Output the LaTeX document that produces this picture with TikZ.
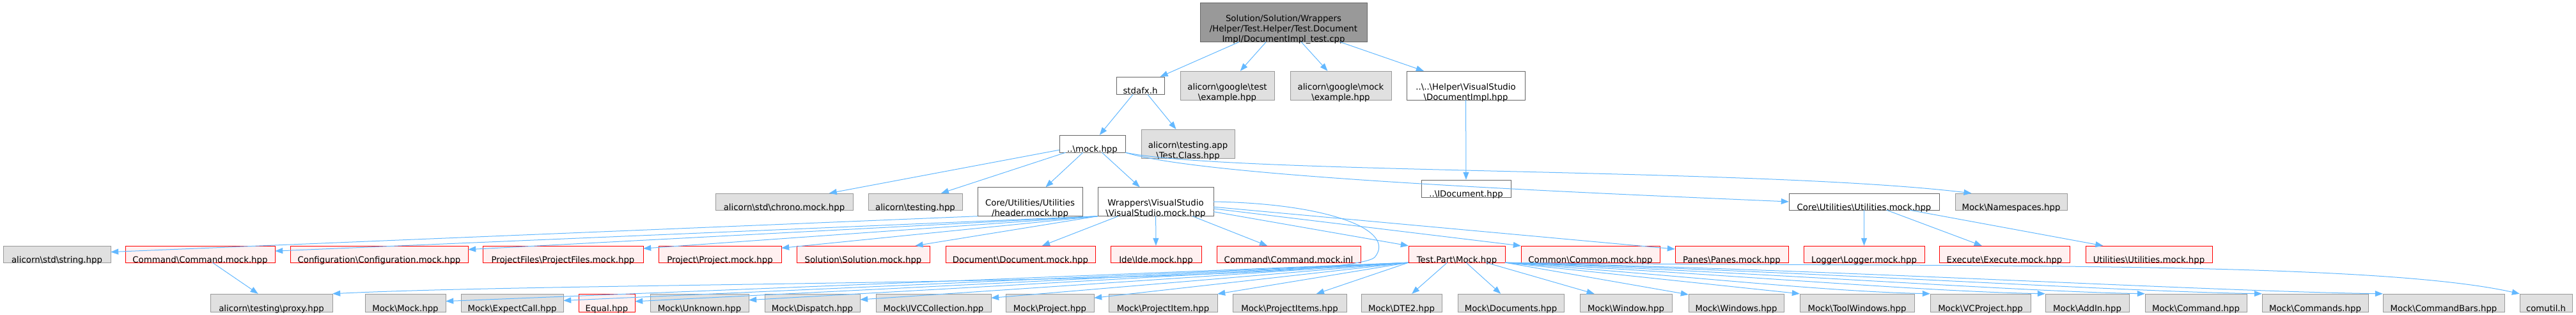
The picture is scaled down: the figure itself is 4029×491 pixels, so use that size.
\documentclass[tikz,border=0pt]{standalone}
\usepackage{fontspec}
\setmainfont{DejaVu Sans}
\usetikzlibrary{arrows.meta}
\definecolor{EdgeBlue}{HTML}{63B8FF}
\definecolor{SysGray}{HTML}{E0E0E0}
\definecolor{SysBorder}{HTML}{999999}
\definecolor{FileBorder}{HTML}{666666}
\definecolor{RootGray}{HTML}{999999}
\definecolor{MissPink}{HTML}{FFF0F0}
\newcommand{\bsl}{\textbackslash}
\tikzset{
  hdr/.style={draw=FileBorder,fill=white,inner sep=0pt,align=center,
    font=\fontsize{13.3pt}{15.8pt}\selectfont},
  sys/.style={hdr,draw=SysBorder,fill=SysGray},
  miss/.style={hdr,draw=red,fill=MissPink},
  src/.style={hdr,fill=RootGray},
  one/.style={minimum height=26pt,text height=26pt,text depth=-5.5pt},
  bot/.style={minimum height=28pt,text height=26pt,text depth=-1.5pt},
  two/.style={minimum height=43pt,text height=45pt,text depth=-3pt},
  dep/.style={draw=EdgeBlue,line width=1pt,-{Triangle[length=12pt,width=9pt]}},
}

\begin{document}
\begin{tikzpicture}[x=1pt,y=-1pt]
\useasboundingbox (0,0) rectangle (4029,491);
\node[src,minimum width=261pt,minimum height=58pt,text height=61pt,text depth=-4.4pt] (root) at (2007.5,35) {Solution/Solution/Wrappers\\/Helper/Test.Helper/Test.Document\\Impl/DocumentImpl\_test.cpp};
\node[hdr,one,minimum width=75pt,minimum height=27pt] (stdafx) at (1783.5,133.5) {stdafx.h};
\node[sys,two,minimum width=147pt] (gtest) at (1919.5,133.5) {alicorn\bsl google\bsl test\\\bsl example.hpp};
\node[sys,two,minimum width=158pt] (gmock) at (2097,133.5) {alicorn\bsl google\bsl mock\\\bsl example.hpp};
\node[hdr,two,minimum width=185pt] (docimpl) at (2292.5,133.5) {..\bsl..\bsl Helper\bsl VisualStudio\\\bsl DocumentImpl.hpp};
\node[hdr,one,minimum width=103pt,minimum height=27pt] (mockhpp) at (1708.5,224.5) {..\bsl mock.hpp};
\node[sys,two,minimum width=146pt] (testclass) at (1858,224.5) {alicorn\bsl testing.app\\\bsl Test.Class.hpp};
\node[hdr,one,minimum width=140pt,minimum height=27pt] (idoc) at (2293,294.5) {..\bsl IDocument.hpp};
\node[sys,one,minimum width=215pt] (chrono) at (1226.5,315) {alicorn\bsl std\bsl chrono.mock.hpp};
\node[sys,one,minimum width=147pt] (testing) at (1431.5,315) {alicorn\bsl testing.hpp};
\node[hdr,two,minimum width=164pt,minimum height=42pt] (header) at (1611,315) {Core/Utilities/Utilities\\/header.mock.hpp};
\node[hdr,two,minimum width=181pt,minimum height=42pt] (vsmock) at (1807.5,315) {Wrappers\bsl VisualStudio\\\bsl VisualStudio.mock.hpp};
\node[hdr,one,minimum width=235pt] (coreutil) at (2915.5,315) {Core\bsl Utilities\bsl Utilities.mock.hpp};
\node[sys,one,minimum width=175pt] (namespaces) at (3145.5,315) {Mock\bsl Namespaces.hpp};
\node[sys,one,minimum width=168pt] (string) at (89,397) {alicorn\bsl std\bsl string.hpp};
\node[miss,one,minimum width=234pt] (cmdmock) at (313,397) {Command\bsl Command.mock.hpp};
\node[miss,one,minimum width=278pt] (config) at (593,397) {Configuration\bsl Configuration.mock.hpp};
\node[miss,one,minimum width=251pt] (projfiles) at (880.5,397) {ProjectFiles\bsl ProjectFiles.mock.hpp};
\node[miss,one,minimum width=192pt] (projmock) at (1126,397) {Project\bsl Project.mock.hpp};
\node[miss,one,minimum width=208pt] (solution) at (1350,397) {Solution\bsl Solution.mock.hpp};
\node[miss,one,minimum width=234pt] (document) at (1596,397) {Document\bsl Document.mock.hpp};
\node[miss,one,minimum width=142pt] (ide) at (1808,397) {Ide\bsl Ide.mock.hpp};
\node[miss,one,minimum width=225pt] (cmdinl) at (2015.5,397) {Command\bsl Command.mock.inl};
\node[miss,one,minimum width=151pt] (testpart) at (2278.5,397) {Test.Part\bsl Mock.hpp};
\node[miss,one,minimum width=217pt] (common) at (2487.5,397) {Common\bsl Common.mock.hpp};
\node[miss,one,minimum width=177pt] (panes) at (2708.5,397) {Panes\bsl Panes.mock.hpp};
\node[miss,one,minimum width=189pt] (logger) at (2915.5,397) {Logger\bsl Logger.mock.hpp};
\node[miss,one,minimum width=204pt] (execute) at (3135,397) {Execute\bsl Execute.mock.hpp};
\node[miss,one,minimum width=198pt] (utilities) at (3361,397) {Utilities\bsl Utilities.mock.hpp};
\node[sys,bot,minimum width=191pt] (proxy) at (424.5,473) {alicorn\bsl testing\bsl proxy.hpp};
\node[sys,bot,minimum width=126pt] (mmock) at (634,473) {Mock\bsl Mock.hpp};
\node[sys,bot,minimum width=160pt] (expect) at (801,473) {Mock\bsl ExpectCall.hpp};
\node[miss,bot,minimum width=88pt] (equal) at (949,473) {Equal.hpp};
\node[sys,bot,minimum width=154pt] (unknown) at (1094,473) {Mock\bsl Unknown.hpp};
\node[sys,bot,minimum width=149pt] (dispatch) at (1270.5,473) {Mock\bsl Dispatch.hpp};
\node[sys,bot,minimum width=180pt] (ivccoll) at (1460,473) {Mock\bsl IVCCollection.hpp};
\node[sys,bot,minimum width=138pt] (mproject) at (1642,473) {Mock\bsl Project.hpp};
\node[sys,bot,minimum width=170pt] (projitem) at (1819,473) {Mock\bsl ProjectItem.hpp};
\node[sys,bot,minimum width=178pt] (projitems) at (2017,473) {Mock\bsl ProjectItems.hpp};
\node[sys,bot,minimum width=126pt] (dte) at (2192,473) {Mock\bsl DTE2.hpp};
\node[sys,bot,minimum width=166pt] (documents) at (2363,473) {Mock\bsl Documents.hpp};
\node[sys,bot,minimum width=144pt] (window) at (2543,473) {Mock\bsl Window.hpp};
\node[sys,bot,minimum width=149pt] (windows) at (2715.5,473) {Mock\bsl Windows.hpp};
\node[sys,bot,minimum width=179pt] (toolwin) at (2904.5,473) {Mock\bsl ToolWindows.hpp};
\node[sys,bot,minimum width=157pt] (vcproj) at (3097.5,473) {Mock\bsl VCProject.hpp};
\node[sys,bot,minimum width=131pt] (addin) at (3264.5,473) {Mock\bsl AddIn.hpp};
\node[sys,bot,minimum width=159pt] (mcommand) at (3434.5,473) {Mock\bsl Command.hpp};
\node[sys,bot,minimum width=166pt] (commands) at (3621,473) {Mock\bsl Commands.hpp};
\node[sys,bot,minimum width=190pt] (cmdbars) at (3822,473) {Mock\bsl CommandBars.hpp};
\node[sys,bot,minimum width=82pt] (comutil) at (3982,473) {comutil.h};
\draw[dep] (root) -- (stdafx);
\draw[dep] (root) -- (gtest);
\draw[dep] (root) -- (gmock);
\draw[dep] (root) -- (docimpl);
\draw[dep] (stdafx) -- (mockhpp);
\draw[dep] (stdafx) -- (testclass);
\draw[dep] (docimpl) -- (idoc);
\draw[dep] (mockhpp) -- (chrono);
\draw[dep] (mockhpp) -- (testing);
\draw[dep] (mockhpp) -- (header);
\draw[dep] (mockhpp) -- (vsmock);
\draw[dep] (mockhpp.south east) .. controls (1880,276) and (2450,300) .. (coreutil.west);
\draw[dep] (mockhpp.south east) .. controls (1920,272) and (2750,262) .. ([xshift=-62pt]namespaces.north);
\draw[dep] (header.south west) -- (string);
\draw[dep] (vsmock.south west) -- (cmdmock);
\draw[dep] (vsmock.south west) -- (config);
\draw[dep] (vsmock.south west) -- (projfiles);
\draw[dep] (vsmock.south west) -- (projmock);
\draw[dep] (vsmock.south west) -- (solution);
\draw[dep] (vsmock) -- (document);
\draw[dep] (vsmock) -- (ide);
\draw[dep] (vsmock) -- (cmdinl);
\draw[dep] (vsmock) -- (testpart);
\draw[dep] (vsmock) -- (common);
\draw[dep] (vsmock) -- (panes);
\draw[dep] (vsmock.east) .. controls (2080,318) and (2185,360) .. (2150,402) .. controls (2100,445) and (900,440) .. (proxy.north east);
\draw[dep] (coreutil) -- (logger);
\draw[dep] (coreutil) -- (execute);
\draw[dep] (coreutil) -- (utilities);
\draw[dep] (cmdmock) -- (proxy);
\draw[dep] (testpart.south west) -- (mmock);
\draw[dep] (testpart.south west) -- (expect);
\draw[dep] (testpart.south west) -- (equal);
\draw[dep] (testpart.south west) -- (unknown);
\draw[dep] (testpart.south west) -- (dispatch);
\draw[dep] (testpart.south west) -- (ivccoll);
\draw[dep] (testpart.south west) -- (mproject);
\draw[dep] (testpart.south west) -- (projitem);
\draw[dep] (testpart.south west) -- (projitems);
\draw[dep] (testpart) -- (dte);
\draw[dep] (testpart) -- (documents);
\draw[dep] (testpart) -- (window);
\draw[dep] (testpart) -- (windows);
\draw[dep] (testpart.south east) -- (toolwin.north west);
\draw[dep] (testpart.south east) .. controls (2650,432) and (2850,455) .. (vcproj.north west);
\draw[dep] (testpart.south east) .. controls (2700,428) and (3000,455) .. (addin.north west);
\draw[dep] (testpart.south east) .. controls (2750,425) and (3150,455) .. (mcommand.north west);
\draw[dep] (testpart.south east) .. controls (2800,422) and (3300,455) .. (commands.north west);
\draw[dep] (testpart.south east) .. controls (2850,420) and (3450,455) .. (cmdbars.north west);
\draw[dep] (testpart.south east) .. controls (3000,418) and (3700,405) .. (comutil.north west);
\end{tikzpicture}
\end{document}
